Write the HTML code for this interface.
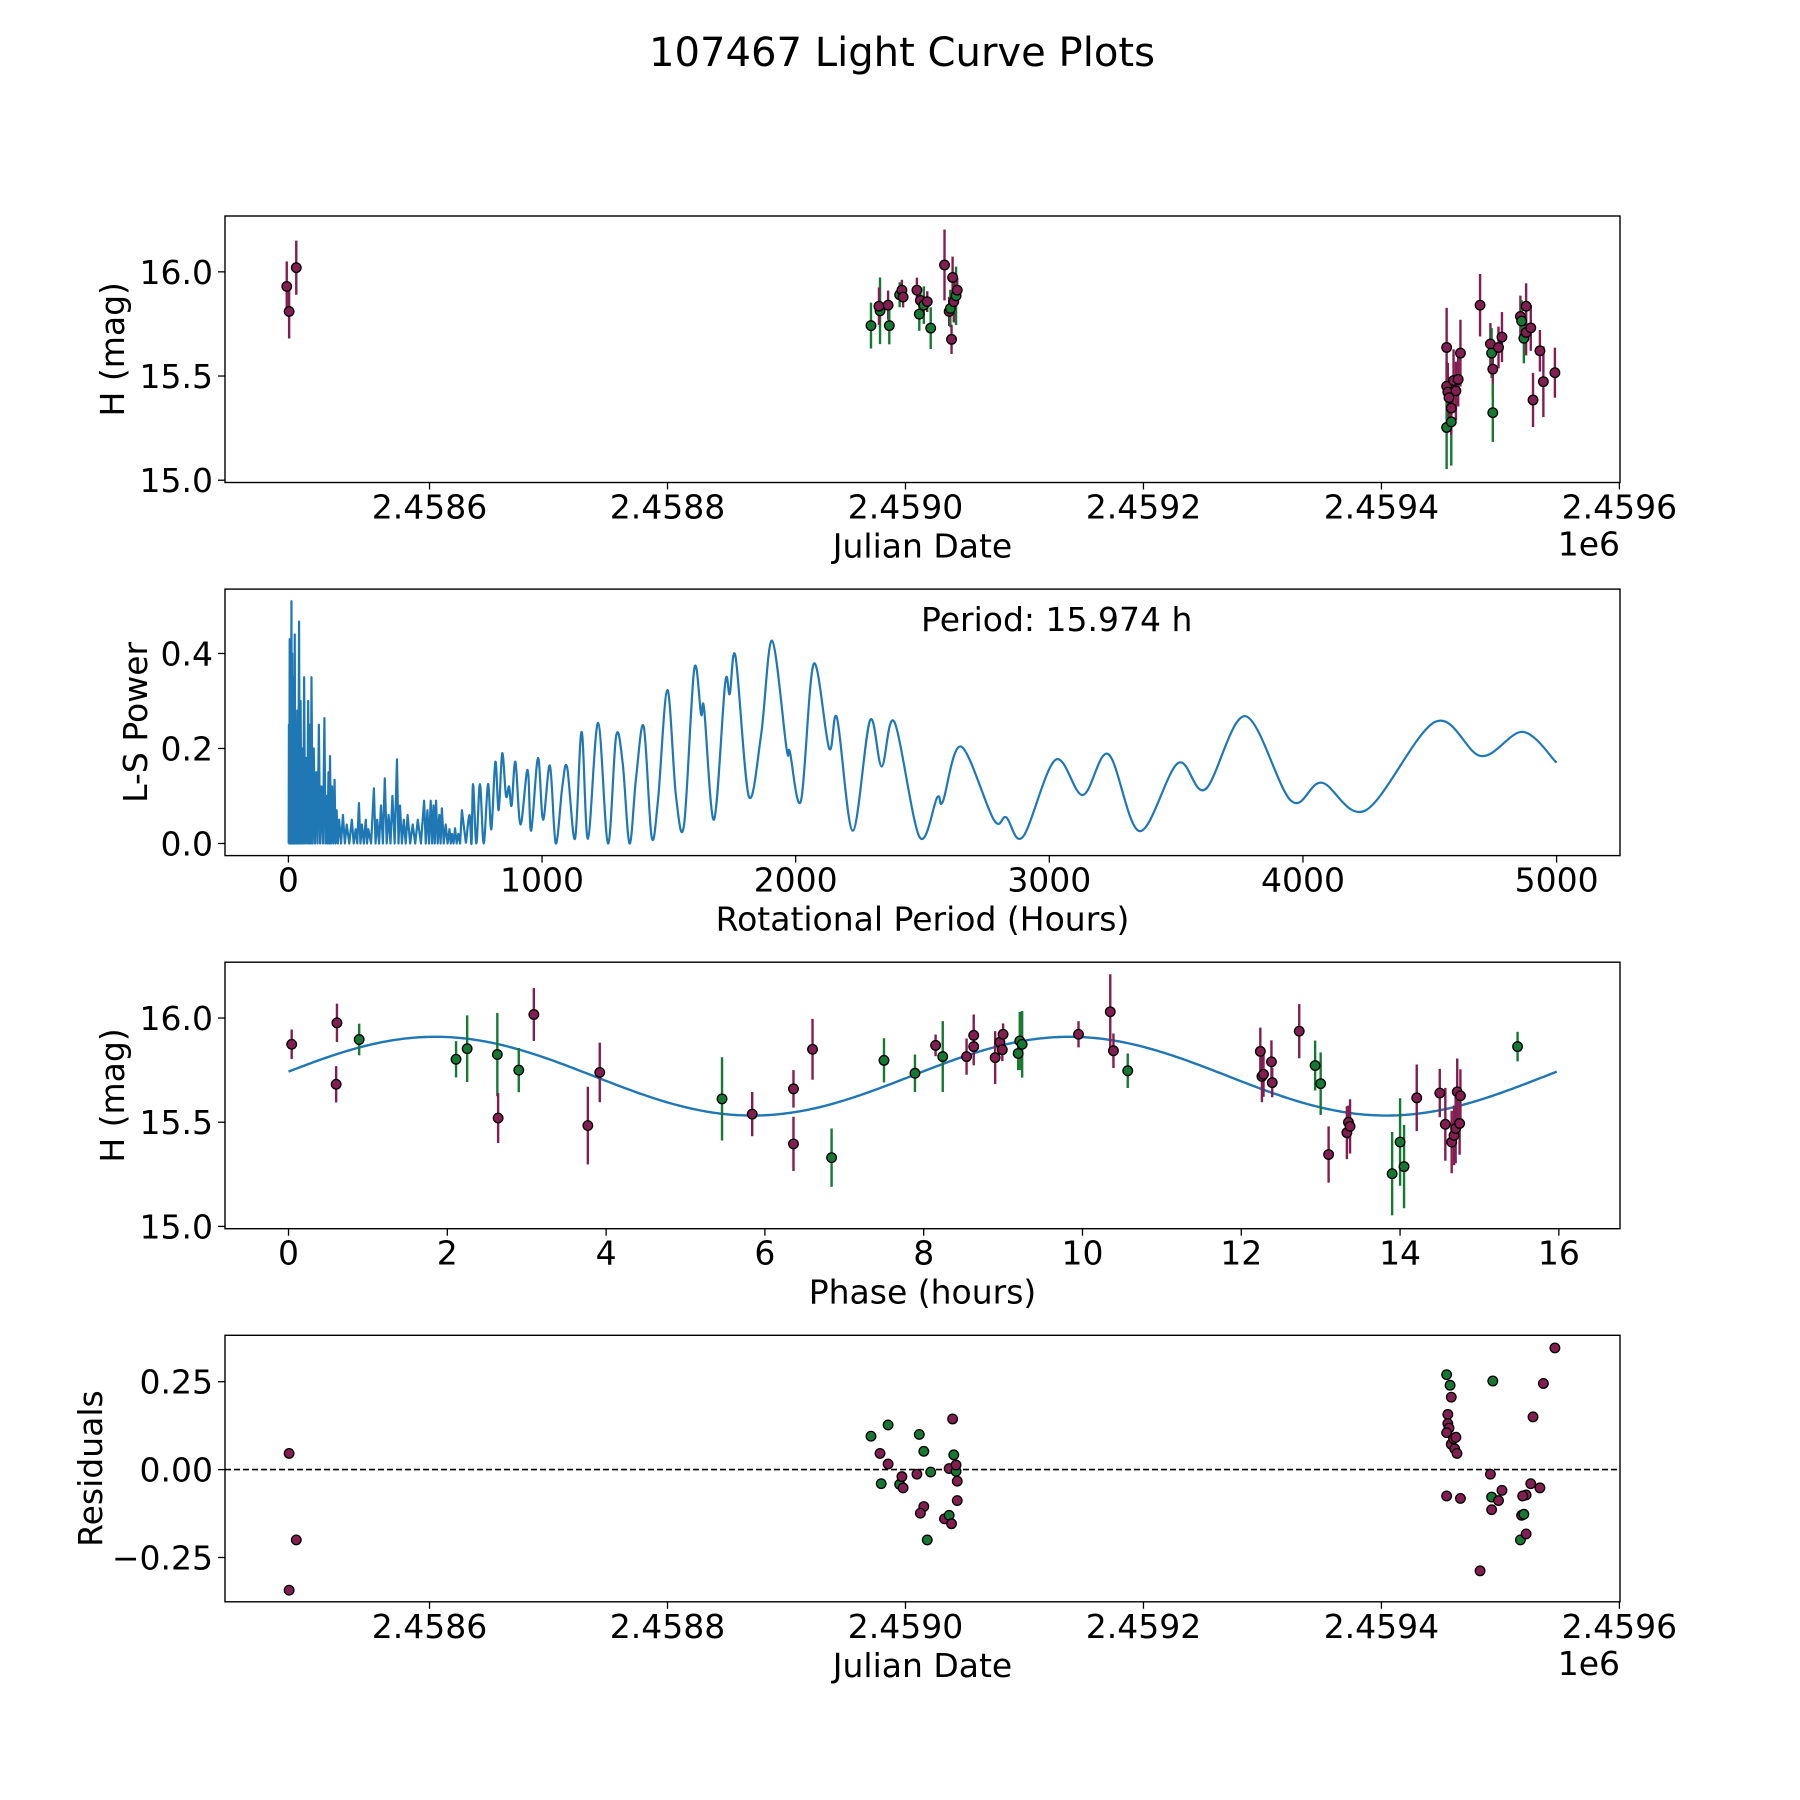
<!DOCTYPE html>
<html><head><meta charset="utf-8">
<style>
html,body{margin:0;padding:0;background:#fff;}
svg{display:block;font-family:"DejaVu Sans","Liberation Sans",sans-serif;}
</style></head>
<body>
<svg id="fig" xmlns="http://www.w3.org/2000/svg" width="1800" height="1800" viewBox="0 0 1800 1800">
<rect x="0" y="0" width="1800" height="1800" fill="#fff"/>
<text x="902" y="66" font-size="40" text-anchor="middle" textLength="506" lengthAdjust="spacingAndGlyphs">107467 Light Curve Plots</text>
</svg>
<script>
// ---------- data ----------
// Panel 1: Julian date (minus 2459000), magnitude, error, band (m/g)
const obsJD   = [-520,-518,-512,-29,-21.4,-22.3,-14.6,-13.6,-4.9,-3,-2,9.6,11.6,12.5,15.4,18.3,21.2,32.8,36.7,37.7,38.7,39.6,40.6,42.5,43.5,454.8,454.8,455.8,456.8,454.8,458.7,458.7,460.6,462.6,464.5,466.4,482.9,491.6,492.6,493.6,493.6,498.4,501.3,516.8,517.8,519.7,521.6,521.6,525.5,527.4,533.2,536.1,545.8];
const obsMag  = [15.93,15.81,16.02,15.742,15.813,15.835,15.84,15.742,15.89,15.912,15.879,15.912,15.797,15.863,15.84,15.857,15.73,16.033,15.81,15.824,15.676,15.973,15.857,15.885,15.912,15.637,15.451,15.423,15.396,15.253,15.28,15.346,15.478,15.429,15.484,15.61,15.84,15.654,15.61,15.533,15.324,15.637,15.687,15.786,15.764,15.681,15.835,15.709,15.731,15.385,15.621,15.473,15.516];
const obsErr  = [0.12,0.13,0.13,0.11,0.16,0.09,0.07,0.09,0.06,0.05,0.05,0.06,0.08,0.05,0.09,0.05,0.1,0.17,0.07,0.09,0.07,0.1,0.1,0.14,0.06,0.19,0.12,0.14,0.1,0.2,0.21,0.13,0.15,0.14,0.13,0.16,0.15,0.1,0.12,0.13,0.14,0.1,0.12,0.1,0.1,0.12,0.11,0.11,0.11,0.13,0.1,0.17,0.12];
const obsBand = ["m","m","m","g","g","m","m","g","g","m","m","m","g","m","g","m","g","m","m","g","m","m","m","g","m","m","m","m","m","g","g","m","m","m","m","m","m","m","g","m","g","m","m","m","g","g","m","m","m","m","m","m","m"];

// Panel 2: Lomb-Scargle periodogram
const shortPeakPeriod = [2,5,8,12,15,20,25,30,35,42,48,55,62,70,78,85,91,100,110,120,130,142,150,158,164,172,182,190,200,215,230,250,265,278,290,305,315,337,350,365,380,395,410,428,440,455,470,490,510,535,548,561,572,582,595,605,620,635,645,657,670,684];
const shortPeakPower  = [0.25,0.43,0.3,0.51,0.4,0.35,0.44,0.2,0.28,0.467,0.3,0.2,0.35,0.18,0.3,0.25,0.35,0.2,0.15,0.25,0.12,0.264,0.1,0.15,0.184,0.12,0.134,0.07,0.05,0.06,0.04,0.05,0.03,0.085,0.04,0.05,0.03,0.116,0.05,0.08,0.137,0.06,0.1,0.177,0.08,0.05,0.06,0.04,0.05,0.09,0.07,0.09,0.08,0.09,0.06,0.074,0.04,0.03,0.02,0.032,0.02,0.07];
const lsPeriod = [700,714,722,728,741,755,770,787,800,816,829,843,858,870,880,895,915,943,957,984,1004,1031,1054,1080,1099,1130,1156,1181,1221,1260,1292,1318,1345,1371,1401,1432,1457,1494,1528,1560,1600,1627,1639,1678,1722,1740,1763,1815,1864,1907,1964,1977,2021,2071,2132,2163,2225,2293,2339,2389,2488,2558,2580,2652,2781,2830,2896,3024,3132,3233,3356,3507,3615,3773,3953,4074,4248,4521,4702,4867,5000];
const lsPower  = [0.0,0.06,0.0,0.125,0.0,0.125,0.0,0.125,0.03,0.172,0.07,0.19,0.1,0.12,0.08,0.172,0.04,0.155,0.027,0.18,0.05,0.164,0.0,0.12,0.16,0.01,0.235,0.01,0.254,0.0,0.226,0.169,0.0,0.14,0.246,0.014,0.09,0.323,0.1,0.04,0.367,0.272,0.283,0.05,0.337,0.315,0.393,0.1,0.23,0.427,0.2,0.193,0.09,0.378,0.2,0.264,0.027,0.259,0.162,0.256,0.014,0.097,0.088,0.204,0.05,0.055,0.014,0.176,0.102,0.188,0.026,0.169,0.114,0.268,0.09,0.128,0.07,0.256,0.184,0.235,0.17];
const bestPeriodLabel = "Period: 15.974 h";

// Panel 3: phased light curve
const phaseX    = [0.04,0.61,0.60,0.89,2.11,2.25,2.63,2.64,2.9,3.09,3.77,3.92,5.46,5.84,6.36,6.36,6.6,6.84,7.5,7.89,8.15,8.24,8.54,8.63,8.63,8.9,8.96,8.99,9.0,9.19,9.21,9.24,9.95,10.35,10.39,10.57,12.24,12.26,12.28,12.38,12.39,12.73,12.93,13.0,13.1,13.33,13.35,13.37,13.9,14.0,14.05,14.21,14.5,14.57,14.65,14.68,14.7,14.72,14.75,14.76,15.48];
const phaseMag  = [15.874,15.977,15.682,15.897,15.802,15.853,15.825,15.52,15.75,16.017,15.484,15.739,15.612,15.539,15.66,15.396,15.85,15.33,15.797,15.735,15.869,15.815,15.815,15.917,15.863,15.81,15.884,15.848,15.922,15.83,15.89,15.874,15.922,16.03,15.843,15.747,15.84,15.72,15.73,15.79,15.69,15.937,15.772,15.685,15.345,15.45,15.5,15.48,15.253,15.405,15.287,15.617,15.64,15.49,15.405,15.437,15.47,15.646,15.494,15.627,15.863];
const phaseErr  = [0.071,0.092,0.087,0.076,0.087,0.16,0.2,0.12,0.106,0.127,0.186,0.143,0.2,0.106,0.09,0.13,0.146,0.14,0.106,0.09,0.052,0.17,0.087,0.1,0.09,0.127,0.055,0.055,0.052,0.08,0.14,0.16,0.063,0.18,0.083,0.083,0.114,0.124,0.108,0.103,0.07,0.13,0.12,0.15,0.135,0.127,0.08,0.13,0.2,0.21,0.2,0.16,0.116,0.175,0.15,0.143,0.167,0.16,0.15,0.127,0.071];
const phaseBand = ["m","m","m","g","g","g","g","m","g","m","m","m","g","m","m","m","m","g","g","g","m","g","m","m","m","m","m","m","m","g","g","g","m","m","m","g","m","m","m","m","m","m","g","g","m","m","m","m","g","g","g","m","m","m","m","m","m","m","m","m","g"];
// fitted model: [mean, amplitude, period(h), phase of max (h), span(h)]
const fitParams = [15.721, 0.189, 7.987, 1.85, 15.974];

// Panel 4: residuals
const resJD   = [-518,-518,-512,-29,-21.4,-20.4,-14.6,-14.6,-4.9,-3,-2,9.6,11.6,15.4,15.4,12.5,18.3,21.2,32.8,36.7,38.7,36.7,39.6,40.6,42.5,43.5,43.5,42.5,454.8,457.7,458.7,455.8,455.8,456.8,454.8,458.7,460.6,461.6,463.5,462.6,454.8,466.4,482.9,491.6,492.6,493.6,492.6,498.4,501.3,516.8,517.8,519.7,521.6,521.6,525.5,527.4,533.2,536.1,518.7,545.8];
const resVal  = [0.046,-0.343,-0.2,0.095,0.046,-0.04,0.127,0.016,-0.042,-0.02,-0.052,-0.013,0.1,0.052,-0.105,-0.124,-0.2,-0.007,-0.14,-0.13,-0.154,0.003,0.144,0.042,-0.005,-0.033,-0.088,0.013,0.27,0.24,0.206,0.157,0.131,0.118,0.105,0.072,0.088,0.059,0.046,0.092,-0.075,-0.082,-0.288,-0.013,-0.078,0.252,-0.114,-0.088,-0.059,-0.2,-0.13,-0.127,-0.072,-0.183,-0.04,0.15,-0.052,0.245,-0.075,0.346];
const resBand = ["m","m","m","g","m","g","g","m","g","m","m","m","g","g","m","m","g","g","m","g","m","m","m","g","g","m","m","m","g","g","m","m","m","m","m","m","m","m","m","m","m","m","m","m","g","g","m","m","m","g","m","g","m","m","m","m","m","m","m","m"];

const jdTicks = [-400,-200,0,200,400,600];
const jdTickLabels = ["2.4586","2.4588","2.4590","2.4592","2.4594","2.4596"];
const magTicks = [15.0,15.5,16.0];
const magTickLabels = ["15.0","15.5","16.0"];
const periodTicks = [0,1000,2000,3000,4000,5000];
const powerTicks = [0.0,0.2,0.4];
const powerTickLabels = ["0.0","0.2","0.4"];
const phaseTicks = [0,2,4,6,8,10,12,14,16];
const resTicks = [-0.25,0,0.25];
const resTickLabels = ["\u22120.25","0.00","0.25"];

// ---------- drawing ----------
const NS = "http://www.w3.org/2000/svg";
const svg = document.getElementById("fig");
const L = 225, R = 1620, PH = 266.5;
const TOPS = [216, 589.1, 962.2, 1335.3];
const COL = {m:"#821e50", g:"#167832"};
function mk(tag, attrs, parent){
  const e = document.createElementNS(NS, tag);
  for (const k in attrs) e.setAttribute(k, attrs[k]);
  (parent||svg).appendChild(e);
  return e;
}
function scale(d0,d1,r0,r1){ return v => r0 + (v-d0)/(d1-d0)*(r1-r0); }

function axes(idx, name, xdom, ydom, xt, xtl, yt, ytl, xlabel, ylabel, ylabelX, offsetText){
  const top = TOPS[idx], bot = top+PH;
  const g = mk("g", {});
  
  
  const sx = scale(xdom[0],xdom[1],L,R), sy = scale(ydom[0],ydom[1],bot,top);
  xt.forEach((v,i)=>{
    const x = sx(v);
    const t = mk("line",{x1:x,x2:x,y1:bot,y2:bot+7,stroke:"#000","stroke-width":1.3},g);
    
    
    const tl = mk("text",{x:x,y:bot+36,"font-size":33,"text-anchor":"middle"},g);
    
    
    tl.textContent = xtl[i];
  });
  yt.forEach((v,i)=>{
    const y = sy(v);
    const t = mk("line",{x1:L-7,x2:L,y1:y,y2:y,stroke:"#000","stroke-width":1.3},g);
    
    
    const tl = mk("text",{x:L-12,y:y+12,"font-size":33,"text-anchor":"end"},g);
    
    
    tl.textContent = ytl[i];
  });
  const xl = mk("text",{x:(L+R)/2,y:bot+75,"font-size":33,"text-anchor":"middle"},g);
  
  
  xl.textContent = xlabel;
  const yl = mk("text",{x:0,y:0,"font-size":33,"text-anchor":"middle",transform:`translate(${ylabelX},${(top+bot)/2}) rotate(-90)`},g);
  
  
  yl.textContent = ylabel;
  if (offsetText){
    const ot = mk("text",{x:R,y:bot+73,"font-size":33,"text-anchor":"end"},g);
    
    
    ot.textContent = offsetText;
  }
  const plot = mk("g",{},g);
  
  
  return {g, plot, sx, sy, top, bot};
}
function frame(ax){
  const f = mk("rect",{x:L,y:ax.top,width:R-L,height:PH,fill:"none",stroke:"#000","stroke-width":1.4},ax.g);
  
  
}
function errPoint(ax, x, y, e, band){
  const c = COL[band];
  const l = mk("line",{x1:ax.sx(x),x2:ax.sx(x),y1:ax.sy(y-e),y2:ax.sy(y+e),stroke:c,"stroke-width":2.4},ax.plot);
  
  
}
function dot(ax, x, y, band){
  const p = mk("circle",{cx:ax.sx(x),cy:ax.sy(y),r:4.8,fill:COL[band],stroke:"#000","stroke-width":1.3},ax.plot);
  
  
}

// Panel 1
const magDom = [14.989, 16.268];
const jdDom = [-571.9, 600.5];
const a1 = axes(0,"light-curve-panel",jdDom,magDom,jdTicks,jdTickLabels,magTicks,magTickLabels,"Julian Date","H (mag)",124,"1e6");
obsJD.forEach((x,i)=>errPoint(a1,x,obsMag[i],obsErr[i],obsBand[i]));
obsJD.forEach((x,i)=>dot(a1,x,obsMag[i],obsBand[i]));
frame(a1);

// Panel 2
const a2 = axes(1,"periodogram-panel",[-250,5250],[-0.0255,0.5355],periodTicks,periodTicks.map(String),powerTicks,powerTickLabels,"Rotational Period (Hours)","L-S Power",147,null);
(function(){
  let d = `M${a2.sx(0)},${a2.sy(0)}`;
  let prev = 0;
  shortPeakPeriod.forEach((p,i)=>{
    const mid = (prev+p)/2;
    d += ` L${a2.sx(mid)},${a2.sy(0)} L${a2.sx(p)},${a2.sy(shortPeakPower[i])}`;
    prev = p;
  });
  d += ` L${a2.sx(lsPeriod[0])},${a2.sy(lsPower[0])}`;
  const s = mk("path",{d:d,fill:"none",stroke:"#1f77b4","stroke-width":2.2,"stroke-linejoin":"round"},a2.plot);
  
  
  const pts = lsPeriod.map((p,i)=>[a2.sx(p),a2.sy(lsPower[i])]);
  let d2 = `M${pts[0][0]},${pts[0][1]}`;
  for (let i=0;i<pts.length-1;i++){
    const p0 = pts[Math.max(0,i-1)], p1 = pts[i], p2 = pts[i+1], p3 = pts[Math.min(pts.length-1,i+2)];
    const c1 = [p1[0]+(p2[0]-p0[0])/6, p1[1]+(p2[1]-p0[1])/6];
    const c2 = [p2[0]-(p3[0]-p1[0])/6, p2[1]-(p3[1]-p1[1])/6];
    d2 += ` C${c1[0]},${c1[1]} ${c2[0]},${c2[1]} ${p2[0]},${p2[1]}`;
  }
  const s2 = mk("path",{d:d2,fill:"none",stroke:"#1f77b4","stroke-width":2.2,"stroke-linejoin":"round"},a2.plot);
  
  
  const t = mk("text",{x:921,y:631,"font-size":33},a2.g);
  
  
  t.textContent = bestPeriodLabel;
})();
frame(a2);

// Panel 3
const a3 = axes(2,"phased-curve-panel",[-0.8,16.77],magDom,phaseTicks,phaseTicks.map(String),magTicks,magTickLabels,"Phase (hours)","H (mag)",124,null);
(function(){
  let d = "";
  for (let k=0;k<=400;k++){
    const x = fitParams[4]*k/400;
    const y = fitParams[0] + fitParams[1]*Math.cos(2*Math.PI*(x-fitParams[3])/fitParams[2]);
    d += (k?" L":"M")+a3.sx(x)+","+a3.sy(y);
  }
  const c = mk("path",{d:d,fill:"none",stroke:"#1f77b4","stroke-width":2.4},a3.plot);
  
  
})();
phaseX.forEach((x,i)=>errPoint(a3,x,phaseMag[i],phaseErr[i],phaseBand[i]));
phaseX.forEach((x,i)=>dot(a3,x,phaseMag[i],phaseBand[i]));
frame(a3);

// Panel 4
const a4 = axes(3,"residuals-panel",jdDom,[-0.376,0.382],jdTicks,jdTickLabels,resTicks,resTickLabels,"Julian Date","Residuals",102,"1e6");
(function(){
  const z = mk("line",{x1:L,x2:R,y1:a4.sy(0),y2:a4.sy(0),stroke:"#000","stroke-width":1.6,"stroke-dasharray":"6,3"},a4.plot);
  
  
})();
resJD.forEach((x,i)=>dot(a4,x,resVal[i],resBand[i]));
frame(a4);
</script>
</body></html>
